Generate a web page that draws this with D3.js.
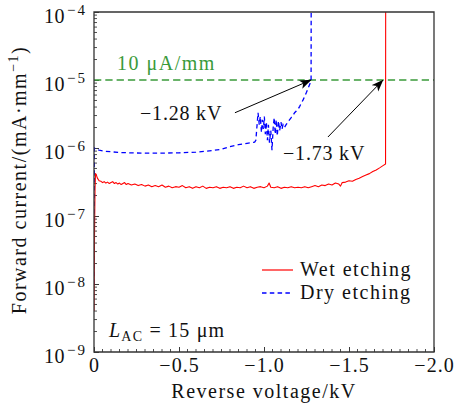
<!DOCTYPE html>
<html><head><meta charset="utf-8">
<script src="https://cdn.jsdelivr.net/npm/d3@7"></script>
<style>
body{margin:0;background:#fff;}
svg{display:block;font-family:"Liberation Serif","DejaVu Serif",serif;}
</style></head>
<body><svg id="c" width="457" height="406"></svg>
<script>
// ---------- data ----------
const xTicks = [0, -0.5, -1.0, -1.5, -2.0];
const xTickLabels = ["0", "\u22120.5", "\u22121.0", "\u22121.5", "\u22122.0"];
const yTickExps = [-9, -8, -7, -6, -5, -4];

const wetV = [0,-0.003,-0.006,-0.009,-0.014,-0.02,-0.03,-0.04,-0.05,-0.06,-0.07,-0.08,-0.09,-0.10,-0.11,-0.12,-0.13,-0.14,-0.15,-0.16,-0.17,-0.18,-0.19,-0.20,
-0.22,-0.24,-0.26,-0.28,-0.30,-0.32,-0.34,-0.36,-0.38,-0.40,-0.42,-0.44,-0.46,-0.48,-0.50,-0.52,-0.54,-0.56,-0.58,-0.60,-0.62,-0.64,-0.66,-0.68,-0.70,
-0.72,-0.74,-0.76,-0.78,-0.80,-0.82,-0.84,-0.86,-0.88,-0.90,-0.92,-0.94,-0.96,-0.98,-1.00,-1.02,-1.03,-1.04,-1.06,-1.08,-1.10,-1.12,-1.14,-1.16,-1.18,
-1.20,-1.22,-1.24,-1.26,-1.28,-1.30,-1.32,-1.34,-1.36,-1.38,-1.40,-1.42,-1.44,-1.45,-1.46,-1.48,-1.50,-1.52,-1.54,-1.56,-1.58,-1.60,-1.62,-1.64,-1.66,
-1.68,-1.70,-1.715,-1.716];
const wetI = [4e-9,5e-8,2.5e-7,4.2e-7,4.0e-7,3.6e-7,3.3e-7,3.25e-7,3.1e-7,3.2e-7,3.05e-7,3.15e-7,3.0e-7,3.1e-7,3.2e-7,3.0e-7,3.1e-7,2.95e-7,3.05e-7,2.9e-7,3.0e-7,3.1e-7,2.9e-7,3.0e-7,
2.85e-7,2.95e-7,2.8e-7,2.9e-7,2.75e-7,2.85e-7,2.7e-7,2.8e-7,2.7e-7,2.85e-7,2.65e-7,2.75e-7,2.6e-7,2.7e-7,2.65e-7,2.8e-7,2.6e-7,2.7e-7,2.55e-7,2.7e-7,2.6e-7,2.75e-7,2.55e-7,2.65e-7,2.6e-7,
2.7e-7,2.55e-7,2.65e-7,2.6e-7,2.7e-7,2.55e-7,2.65e-7,2.6e-7,2.75e-7,2.6e-7,2.7e-7,2.55e-7,2.65e-7,2.7e-7,2.6e-7,2.75e-7,3.05e-7,2.65e-7,2.6e-7,2.7e-7,2.55e-7,2.65e-7,2.6e-7,2.7e-7,2.6e-7,
2.65e-7,2.6e-7,2.7e-7,2.6e-7,2.7e-7,2.8e-7,2.7e-7,2.85e-7,2.8e-7,2.95e-7,2.85e-7,3.05e-7,2.95e-7,2.75e-7,3.1e-7,3.15e-7,3.3e-7,3.25e-7,3.45e-7,3.6e-7,3.8e-7,4.0e-7,4.2e-7,4.5e-7,4.75e-7,
5.1e-7,5.5e-7,5.8e-7,1e-3];

const dryV = [0,-0.002,-0.01,-0.03,-0.06,-0.1,-0.15,-0.2,-0.3,-0.4,-0.5,-0.6,-0.7,-0.75,-0.8,-0.85,-0.9,-0.945,-0.952,
-0.958,-0.965,-0.972,-0.978,-0.985,-0.99,-0.996,-1.002,-1.008,-1.014,-1.02,-1.026,-1.032,-1.04,-1.047,-1.054,-1.06,-1.066,-1.072,-1.078,-1.085,-1.092,-1.1,-1.106,-1.112,
-1.12,-1.13,-1.14,-1.15,-1.16,-1.17,-1.18,-1.19,-1.2,-1.21,-1.22,-1.23,-1.24,-1.25,-1.26,-1.27,-1.277,-1.278];
const dryI = [1e-8,1.0e-6,9.6e-7,9.3e-7,9.0e-7,8.8e-7,8.6e-7,8.5e-7,8.4e-7,8.4e-7,8.5e-7,8.7e-7,9.2e-7,9.6e-7,1.05e-6,1.12e-6,1.17e-6,1.22e-6,1.3e-6,
2.0e-6,3.3e-6,2.2e-6,2.9e-6,1.7e-6,2.6e-6,1.9e-6,2.9e-6,1.6e-6,2.4e-6,1.3e-6,2.2e-6,1.2e-6,1.8e-6,9.3e-7,2.0e-6,2.8e-6,1.6e-6,2.6e-6,1.5e-6,2.5e-6,1.8e-6,2.4e-6,1.9e-6,2.2e-6,
2.0e-6,2.2e-6,2.4e-6,2.6e-6,2.8e-6,3.0e-6,3.3e-6,3.5e-6,3.7e-6,4.1e-6,4.6e-6,5.1e-6,5.8e-6,6.6e-6,7.6e-6,8.8e-6,1.0e-5,1e-3];

const limitI = 1e-5;
const arrows = [
  {label:"\u22121.28 kV", fromV:-0.829, fromI:3.3e-6, toV:-1.277, toI:1e-5},
  {label:"\u22121.73 kV", fromV:-1.376, fromI:1.45e-6, toV:-1.70, toI:1e-5}
];

// ---------- layout ----------
const L = 94, R = 434, T = 12, B = 352;
const svg = d3.select("#c");
const x = d3.scaleLinear().domain([0, -2]).range([L, R]);
const y = d3.scaleLog().domain([1e-9, 1e-4]).range([B, T]);
const ink = "#222";

// minor ticks
const minorX = d3.range(0, 41).map(i => -i * 0.05).filter(v => !xTicks.some(t => Math.abs(t - v) < 1e-9));
svg.append("g").selectAll("line").data(minorX).join("line")
  .attr("x1", d => x(d)).attr("x2", d => x(d)).attr("y1", B).attr("y2", B - 3)
  .attr("stroke", ink).attr("stroke-width", 0.8);
const minorY = [];
yTickExps.slice(0, -1).forEach(e => { for (let m = 2; m <= 9; m++) minorY.push(m * Math.pow(10, e)); });
svg.append("g").selectAll("line").data(minorY).join("line")
  .attr("x1", L).attr("x2", L + 3).attr("y1", d => y(d)).attr("y2", d => y(d))
  .attr("stroke", ink).attr("stroke-width", 0.8);

// x axis
const xAxis = d3.axisBottom(x).tickValues(xTicks).tickSize(-5).tickPadding(6)
  .tickFormat((d, i) => xTickLabels[i]);
const gx = svg.append("g").attr("transform", `translate(0,${B})`).call(xAxis);
gx.select(".domain").remove();
gx.selectAll(".tick line").attr("stroke", ink).attr("stroke-width", 0.9);
gx.selectAll(".tick text").attr("font-family", "Liberation Serif").attr("font-size", 20)
  .attr("letter-spacing", 1).attr("fill", "#111");

// y axis
const yAxis = d3.axisLeft(y).tickValues(yTickExps.map(e => Math.pow(10, e))).tickSize(-5).tickPadding(8).tickFormat("");
const gy = svg.append("g").attr("transform", `translate(${L},0)`).call(yAxis);
gy.select(".domain").remove();
gy.selectAll(".tick line").attr("stroke", ink).attr("stroke-width", 0.9);
gy.selectAll(".tick text").each(function(d, i) {
  const t = d3.select(this).text(null).attr("font-family", "Liberation Serif").attr("fill", "#111")
    .attr("x", -7).attr("dy", null).attr("y", 10.5).attr("text-anchor", "end");
  t.append("tspan").attr("font-size", 20).attr("letter-spacing", 0.5).text("10");
  t.append("tspan").attr("font-size", 15).attr("dx", 2).attr("dy", -8).attr("letter-spacing", 2)
    .text("\u2212" + Math.abs(yTickExps[i]));
});

// clip
svg.append("clipPath").attr("id", "clip").append("rect").attr("x", L).attr("y", T).attr("width", R - L).attr("height", B - T);
const plot = svg.append("g").attr("clip-path", "url(#clip)");

// threshold line
plot.append("line").attr("x1", L).attr("x2", R).attr("y1", y(limitI)).attr("y2", y(limitI))
  .attr("stroke", "#3a9a3a").attr("stroke-width", 1.5).attr("stroke-dasharray", "7.3,4");

const line = d3.line().x(d => x(d[0])).y(d => y(d[1]));
plot.append("path").datum(dryV.map((v, i) => [v, dryI[i]])).attr("d", line)
  .attr("fill", "none").attr("stroke", "#0000ff").attr("stroke-width", 1.3).attr("stroke-dasharray", "4.5,3.3");
plot.append("path").datum(wetV.map((v, i) => [v, wetI[i]])).attr("d", line)
  .attr("fill", "none").attr("stroke", "#ff0000").attr("stroke-width", 1.1).attr("stroke-linejoin", "round");

// frame
svg.append("path").attr("d", `M${L},${T}V${B}H${R}V${T}Z`).attr("fill", "none").attr("stroke", "#333").attr("stroke-width", 1.3);

// green label
svg.append("text").attr("x", 117).attr("y", 70).attr("fill", "#3a9a3a").attr("font-size", 20)
  .attr("letter-spacing", 1.5).text("10 \u03bcA/mm");

// arrows
svg.append("defs").append("marker").attr("id", "ah").attr("viewBox", "0 0 12 10")
  .attr("refX", 11.5).attr("refY", 5).attr("markerWidth", 12).attr("markerHeight", 10)
  .attr("markerUnits", "userSpaceOnUse").attr("orient", "auto")
  .append("path").attr("d", "M0,0.5 L12,5 L0,9.5 L3,5 Z").attr("fill", "#000");
svg.selectAll(".arr").data(arrows).join("line").attr("class", "arr")
  .attr("x1", d => x(d.fromV)).attr("y1", d => y(d.fromI)).attr("x2", d => x(d.toV)).attr("y2", d => y(d.toI))
  .attr("stroke", "#000").attr("stroke-width", 1).attr("marker-end", "url(#ah)");
svg.append("text").attr("x", 140).attr("y", 120).attr("font-size", 20).attr("letter-spacing", 0.8).attr("fill", "#111").text(arrows[0].label);
svg.append("text").attr("x", 283).attr("y", 160).attr("font-size", 20).attr("letter-spacing", 0.8).attr("fill", "#111").text(arrows[1].label);

// legend
const leg = svg.append("g");
leg.append("line").attr("x1", 262).attr("x2", 293).attr("y1", 270).attr("y2", 270).attr("stroke", "#ff0000").attr("stroke-width", 1.2);
leg.append("line").attr("x1", 262).attr("x2", 293).attr("y1", 293).attr("y2", 293).attr("stroke", "#0000ff").attr("stroke-width", 1.3).attr("stroke-dasharray", "4.5,3.3");
leg.append("text").attr("x", 300).attr("y", 276).attr("font-size", 20).attr("letter-spacing", 1.5).attr("fill", "#111").text("Wet etching");
leg.append("text").attr("x", 300).attr("y", 299).attr("font-size", 20).attr("letter-spacing", 1.5).attr("fill", "#111").text("Dry etching");

// L_AC label
const lac = svg.append("text").attr("x", 109).attr("y", 337).attr("font-size", 20).attr("letter-spacing", 1.2).attr("fill", "#111");
lac.append("tspan").attr("font-style", "italic").text("L");
lac.append("tspan").attr("font-size", 14).attr("dy", 4).text("AC");
lac.append("tspan").attr("dy", -4).text(" = 15 \u03bcm");

// axis titles
svg.append("text").attr("x", (L + R) / 2).attr("y", 398).attr("text-anchor", "middle").attr("font-size", 20)
  .attr("letter-spacing", 1.5).attr("fill", "#111").text("Reverse voltage/kV");
const yl = svg.append("text").attr("transform", `translate(26,180) rotate(-90)`).attr("text-anchor", "middle")
  .attr("font-size", 20).attr("letter-spacing", 1.5).attr("fill", "#111");
yl.append("tspan").text("Forward current/(mA\u00b7mm");
yl.append("tspan").attr("font-size", 14).attr("dy", -8).text("\u22121");
yl.append("tspan").attr("dy", 8).text(")");
</script></body></html>
